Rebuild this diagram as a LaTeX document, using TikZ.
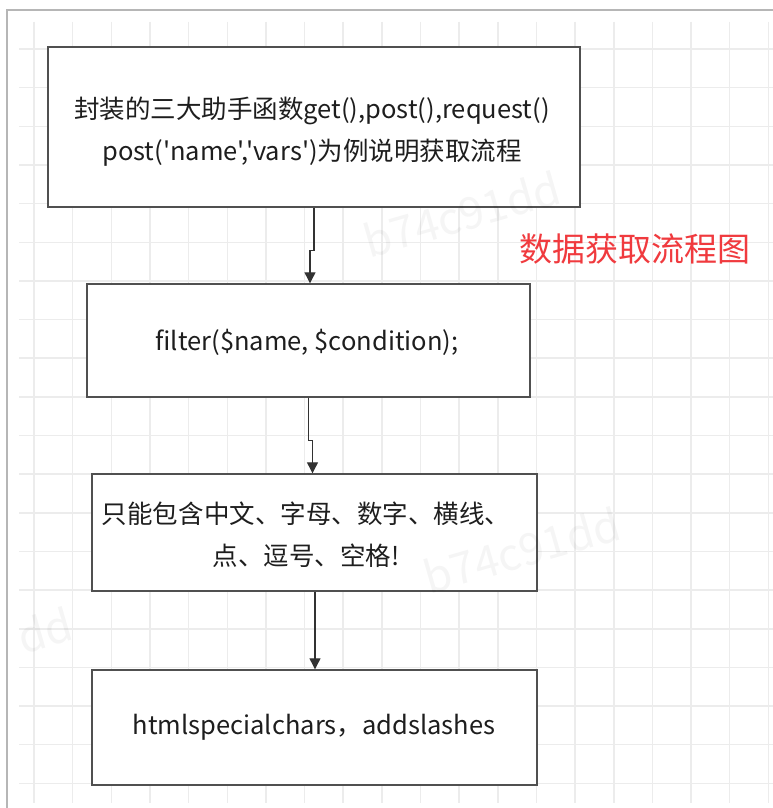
\documentclass[tikz,border=0pt]{standalone}
\usepackage{fontspec}
\setmainfont{Noto Sans CJK SC}[Ligatures=TeXOff]
\usetikzlibrary{arrows.meta}
\definecolor{gridc}{RGB}{236,236,236}
\definecolor{framec}{RGB}{182,182,182}
\definecolor{boxc}{RGB}{80,80,80}
\definecolor{arrc}{RGB}{50,50,50}
\definecolor{titlec}{RGB}{240,58,62}
\definecolor{txtc}{RGB}{30,30,30}
\tikzset{
  flowbox/.style={draw=boxc, line width=1.4bp, fill=white, inner sep=0pt},
  boxtext/.style={text=txtc, align=center, font=\fontsize{25.5bp}{42bp}\selectfont},
  flowarr/.style={draw=arrc, line width=1.2bp, -{Triangle[width=11bp,length=11bp]}},
  wmark/.style={text=black, opacity=0.04, font=\fontsize{44bp}{44bp}\selectfont, rotate=16}
}
\begin{document}
\begin{tikzpicture}[x=1bp,y=-1bp]
\useasboundingbox (0,0) rectangle (773,808);
\fill[white] (0,0) rectangle (773,808);
% grid
\foreach \k in {0,...,19} {
  \draw[gridc, line width=1.5bp] ({34+38.65*\k},22) -- ({34+38.65*\k},803);
  \draw[gridc, line width=1.5bp] (19,{49+38.65*\k}) -- (773,{49+38.65*\k});
}
% frame
\draw[framec, line width=2bp] (7,808) -- (7,10) -- (773,10);
% boxes
\node[flowbox, minimum width=532bp, minimum height=160bp] (b1) at (314,127) {};
\node[flowbox, minimum width=443bp, minimum height=113bp] (b2) at (308.5,340.5) {};
\node[flowbox, minimum width=445bp, minimum height=117bp] (b3) at (314.5,532.5) {};
\node[flowbox, minimum width=445bp, minimum height=115bp] (b4) at (314.5,727.5) {};
% texts
\node[boxtext] (t1) at (312,132) {封装的三大助手函数get(),post(),request()\\post('name','vars')为例说明获取流程};
\node[boxtext] (t2) at (307,342) {filter(\$name, \$condition);};
\node[boxtext] (t3) at (306,535) {只能包含中文、字母、数字、横线、\\点、逗号、空格!};
\node[boxtext] (t4) at (314,727) {htmlspecialchars，addslashes};
\node[text=titlec, font=\fontsize{33bp}{33bp}\selectfont] (title) at (634.5,249) {数据获取流程图};
% connectors
\draw[flowarr] (b1.south) -- ++(0,43) -| ([xshift=-4bp]b1.south |- b2.north);
\draw[flowarr] (b2.south) -- ++(0,43) -| ([xshift=4bp]b2.south |- b3.north);
\draw[flowarr] ([xshift=0.5bp]b3.south) -- ([xshift=0.5bp]b3.south |- b4.north);
% watermarks
\node[wmark] (w1) at (462,214) {b74c91dd};
\node[wmark] (w2) at (522,550) {b74c91dd};
\node[wmark] (w3) at (45,630) {dd};
\end{tikzpicture}
\end{document}
